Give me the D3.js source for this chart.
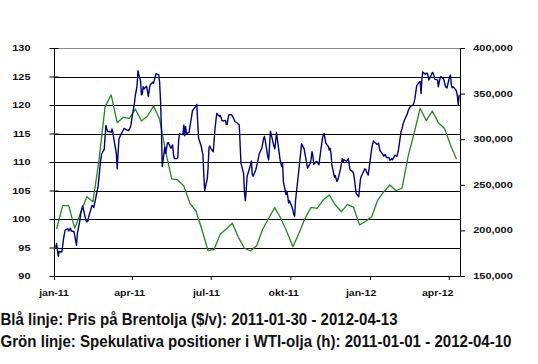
<!DOCTYPE html>
<html><head><meta charset="utf-8">
<script src="https://cdn.jsdelivr.net/npm/d3@7"></script>
<style>body{margin:0;background:#fff}svg{display:block}</style>
</head><body>
<svg id="c" width="538" height="364"></svg>
<script>
const leftTicks = [90, 95, 100, 105, 110, 115, 120, 125, 130];
const rightTicks = [150000, 200000, 250000, 300000, 350000, 400000];
const xTickDates = ["2011-01-01", "2011-04-01", "2011-07-01", "2011-10-01", "2012-01-01", "2012-04-01"];
const xTickLabels = ["jan-11", "apr-11", "jul-11", "okt-11", "jan-12", "apr-12"];
const titleLines = [
  "Blå linje: Pris på Brentolja ($/v): 2011-01-30 - 2012-04-13",
  "Grön linje: Spekulativa positioner i WTI-olja (h): 2011-01-01 - 2012-04-10"
];
// Brent price, one value per business day starting 2011-01-03 (5 per week)
const blueStart = "2011-01-03";
const blueValues = [
  95.0, 95.7, 94.5, 93.5, 94.3,
  94.2, 95.3, 96.5, 97.4, 98.1,
  98.3, 97.9, 98.1, 98.4, 97.9,
  97.8, 97.1, 96.2, 95.4, 97.5,
  99.8, 101.1, 101.7, 102.3, 101.7,
  99.7, 99.5, 99.6, 100.3, 100.9,
  102.4, 102.3, 102.0, 102.8, 103.5,
  105.8, 107.4, 109.0, 110.4, 111.4,
  112.2, 114.5, 116.4, 115.8, 115.4,
  115.3, 115.2, 115.8, 115.3, 114.2,
  111.5, 108.8, 111.5, 114.0, 114.4,
  115.3, 115.6, 115.9, 115.8, 115.7,
  115.5, 115.7, 116.0, 116.6, 117.7,
  120.4, 121.8, 122.5, 123.5, 126.0,
  124.2, 121.8, 122.0, 123.2, 122.8,
  123.3, 122.4, 121.5, 122.6, 123.5,
  124.0, 123.8, 124.4, 125.0, 125.5,
  125.3, 124.0, 121.0, 116.5, 109.2,
  112.6, 111.5, 112.4, 113.3, 113.4,
  112.4, 112.7, 113.0, 111.4, 110.6,
  110.6, 110.8, 113.8, 115.0, 114.9,
  114.8, 116.5, 114.6, 116.2, 115.0,
  115.2, 116.2, 117.1, 118.0, 119.0,
  119.6, 119.8, 120.1, 117.0, 114.2,
  112.8, 112.0, 111.3, 108.0, 105.0,
  107.0, 109.0, 112.5, 112.8, 112.4,
  111.8, 113.8, 115.9, 117.2, 118.5,
  118.0, 118.2, 117.8, 117.3, 117.2,
  117.3, 116.6, 116.6, 117.6, 118.3,
  118.3, 118.1, 117.8, 117.5, 117.1,
  116.8, 116.6, 116.5, 113.0, 109.8,
  108.0, 104.8, 103.2, 105.0, 107.4,
  109.0, 109.5, 110.2, 107.8, 107.5,
  108.6, 109.2, 109.9, 110.6, 111.4,
  112.4, 113.2, 114.0, 114.5, 113.8,
  110.9, 110.4, 112.8, 115.4, 114.8,
  112.8, 112.3, 113.5, 115.2, 114.0,
  110.6, 109.8, 109.2, 109.8, 106.5,
  104.3, 104.9, 104.0, 102.8, 103.2,
  102.1, 101.5, 100.8, 100.5, 103.2,
  107.4, 108.8, 110.3, 111.7, 113.2,
  112.3, 111.4, 110.6, 109.6, 108.9,
  109.8, 110.5, 111.8, 111.2, 109.6,
  110.1, 110.0, 109.8, 109.5, 110.7,
  114.0, 114.7, 115.0, 114.2, 113.3,
  112.7, 112.1, 112.4, 111.5, 109.5,
  107.3, 107.6, 107.0, 106.6, 106.9,
  108.8, 109.7, 110.6, 110.1, 110.4,
  110.1, 110.4, 110.6, 109.6, 108.6,
  108.3, 108.0, 107.0, 105.8, 104.5,
  103.9, 105.5, 107.0, 107.5, 107.8,
  108.8, 108.7, 108.3, 108.0, 107.7,
  111.2, 112.3, 113.1, 113.7, 113.5,
  113.1, 113.2, 113.3, 112.3, 111.9,
  111.3, 111.0, 111.3, 111.3, 110.8,
  110.8, 110.3, 110.4, 110.6, 110.4,
  111.2, 111.1, 111.0, 111.5, 112.2,
  115.4, 115.8, 116.5, 117.0, 117.4,
  118.4, 118.9, 119.3, 119.6, 119.8,
  120.0, 120.5, 121.2, 122.3, 123.4,
  124.0, 124.1, 122.0, 124.5, 125.8,
  125.4, 125.6, 125.6, 125.2, 124.4,
  125.3, 125.7, 125.6, 125.1, 124.5,
  124.4, 123.2, 124.0, 124.7, 125.0,
  124.6, 124.0, 123.4, 123.1, 123.0,
  125.0, 125.2, 123.5, 123.0, 123.2,
  122.7, 122.4, 121.5, 120.0, 121.8
];
// WTI speculative net positions, weekly starting 2011-01-04
const greenStart = "2011-01-04";
const greenValues = [
  201500, 227100, 227100, 202300, 220000, 237000, 231500, 277200, 335700, 348500,
  318100, 324000, 322900, 333100, 320000, 325400, 336400, 321800, 286300, 256400,
  255300, 248700, 229700, 221300, 200400, 177700, 179300, 195700, 201500, 207800,
  192400, 180400, 177400, 182900, 201200, 213300, 224900, 213300, 198600, 182100,
  196800, 213300, 225300, 224200, 233300, 238800, 227800, 220500, 228600, 225300,
  205900, 210000, 215000, 233300, 242400, 249800, 243500, 246200, 280800, 306500,
  333900, 320300, 330900, 318100, 312000, 293600, 278000
];

const parse = d3.timeParse("%Y-%m-%d");
const svg = d3.select("#c");
const L = 54, R = 460, T = 48, B = 276;

const x = d3.scaleTime().domain([parse("2011-01-01"), parse("2012-04-14")]).range([L, R]);
const yL = d3.scaleLinear().domain([90, 130]).range([B, T]);
const yR = d3.scaleLinear().domain([150000, 400000]).range([B, T]);

// business days for blue series
const blueDates = [];
let d = parse(blueStart);
while (blueDates.length < blueValues.length) {
  const wd = d.getDay();
  if (wd !== 0 && wd !== 6) blueDates.push(d);
  d = d3.timeDay.offset(d, 1);
}
const blue = blueValues.map((v, i) => ({date: blueDates[i], v}));
const green = greenValues.map((v, i) => ({date: d3.timeDay.offset(parse(greenStart), 7 * i), v}));

// gridlines
svg.append("g").selectAll("line").data(leftTicks.filter(t => t > 90))
  .join("line")
  .attr("x1", L).attr("x2", R)
  .attr("y1", t => Math.round(yL(t)) + 0.5).attr("y2", t => Math.round(yL(t)) + 0.5)
  .attr("stroke", t => t === 130 ? "#8a8a8a" : "#000")
  .attr("stroke-width", 1);

// axes
const axL = svg.append("g").attr("transform", `translate(${L},0)`)
  .call(d3.axisLeft(yL).tickValues(leftTicks).tickSize(4.5).tickSizeOuter(0).tickFormat(""));
axL.selectAll(".tick line").attr("x1", 4.5).attr("x2", -4.5);
const axR = svg.append("g").attr("transform", `translate(${R},0)`)
  .call(d3.axisRight(yR).tickValues(rightTicks).tickSize(5).tickSizeOuter(0).tickFormat(""));
const axB = svg.append("g").attr("transform", `translate(0,${B})`)
  .call(d3.axisBottom(x).tickValues(xTickDates.map(parse)).tickSize(4).tickSizeOuter(0).tickFormat(""));
svg.selectAll(".domain").attr("stroke", "#000");
svg.selectAll(".tick line").attr("stroke", "#000");

// tick labels
const lblFont = "'Liberation Sans', Arial, sans-serif";
svg.append("g").selectAll("text").data(leftTicks).join("text")
  .attr("transform", t => `translate(30.5,${yL(t) + 3}) scale(1.3,1)`)
  .attr("text-anchor", "end")
  .attr("font-family", lblFont).attr("font-weight", "bold").attr("font-size", 8.4)
  .attr("fill", "#111").text(t => t);
const fmt = d3.format(",");
svg.append("g").selectAll("text").data(rightTicks).join("text")
  .attr("transform", t => `translate(473.3,${yR(t) + 3}) scale(1.3,1)`)
  .attr("text-anchor", "start")
  .attr("font-family", lblFont).attr("font-weight", "bold").attr("font-size", 8.4)
  .attr("fill", "#111").text(t => fmt(t));
svg.append("g").selectAll("text").data(xTickDates).join("text")
  .attr("transform", s => `translate(${L + (x(parse(s)) - L) * 0.972},295.5) scale(1.25,1)`)
  .attr("text-anchor", "middle")
  .attr("font-family", lblFont).attr("font-weight", "bold").attr("font-size", 8.4)
  .attr("fill", "#111").text((s, i) => xTickLabels[i]);

// lines
svg.append("path").datum(green)
  .attr("fill", "none").attr("stroke", "#1f8a1f").attr("stroke-width", 1.3)
  .attr("stroke-linejoin", "round")
  .attr("d", d3.line().x(p => x(p.date)).y(p => yR(p.v)));
svg.append("path").datum(blue)
  .attr("fill", "none").attr("stroke", "#000080").attr("stroke-width", 1.4)
  .attr("stroke-linejoin", "round")
  .attr("d", d3.line().x(p => x(p.date)).y(p => yL(p.v)));

// caption lines (condensed bold look: Arial-metric bold, stretched vertically)
const capFont = "'Liberation Sans', Arial, sans-serif";
const capWidths = [397, 511];
const capBase = [324.5, 347];
svg.append("g").selectAll("text").data(titleLines).join("text")
  .attr("transform", (s, i) => `translate(0.5,${capBase[i]}) scale(1,1.3)`)
  .attr("font-family", capFont).attr("font-weight", "bold").attr("font-size", 12.4)
  .attr("fill", "#111")
  .attr("textLength", (s, i) => capWidths[i]).attr("lengthAdjust", "spacingAndGlyphs")
  .text(s => s);
</script>
</body></html>
